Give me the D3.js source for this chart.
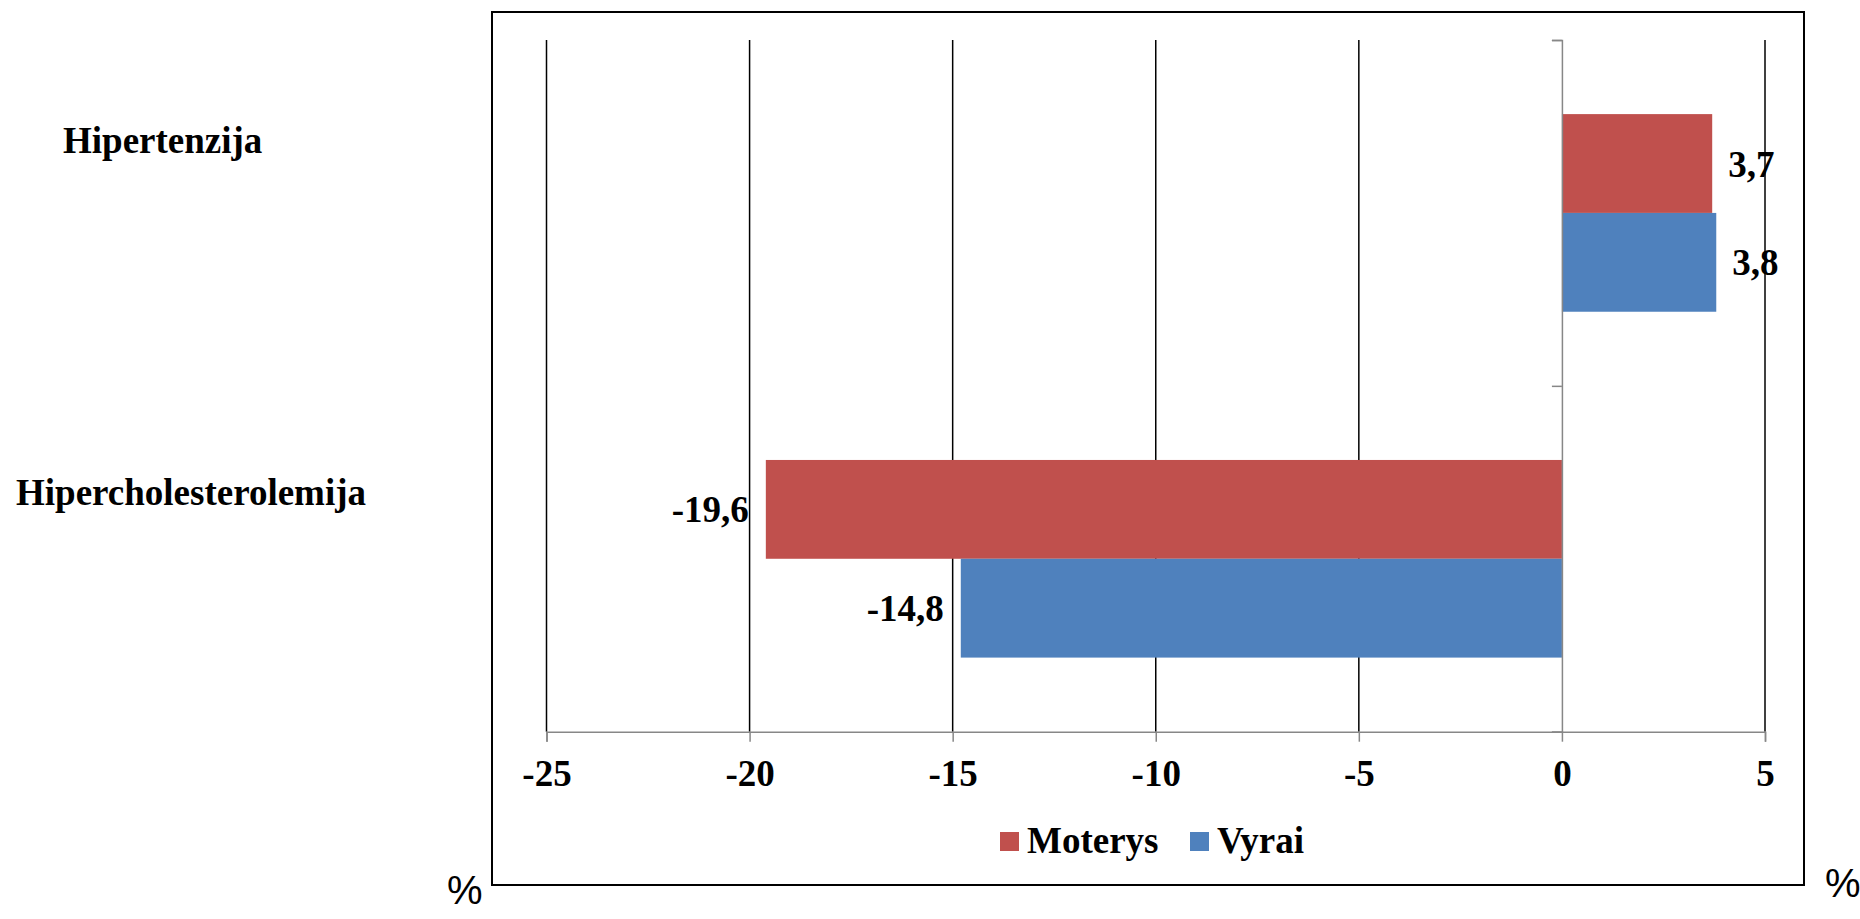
<!DOCTYPE html>
<html>
<head>
<meta charset="utf-8">
<script src="https://cdn.jsdelivr.net/npm/d3@7"></script>
<style>
  html, body { margin: 0; padding: 0; background: #ffffff; }
  svg { display: block; }
  .serif { font-family: "Liberation Serif", "Times New Roman", serif; font-weight: bold; }
</style>
</head>
<body>
<svg id="chart" width="1860" height="919"></svg>
<script>
// Change in prevalence, %
const categories = ["Hipertenzija", "Hipercholesterolemija"];
const seriesNames = ["Moterys", "Vyrai"];
const moterysValues = [3.7, -19.6];
const vyraiValues = [3.8, -14.8];
const xTicks = [-25, -20, -15, -10, -5, 0, 5];
const seriesColors = ["#C0504D", "#4F81BD"];

const values = [moterysValues, vyraiValues];
const rows = categories.map((c, i) => ({
  category: c,
  bars: seriesNames.map((s, j) => ({ series: s, value: values[j][i], color: seriesColors[j] }))
}));

const svg = d3.select("#chart");

// Frame and plot area
const frame = { left: 492, top: 12, right: 1804, bottom: 885 };
const plot = { left: 546.5, right: 1765, top: 40, bottom: 731.7 };

const x = d3.scaleLinear().domain([-25, 5]).range([plot.left, plot.right]);
const y0 = d3.scaleBand().domain(categories).range([plot.top, plot.bottom]).padding(0);
const y1 = d3.scaleBand().domain(seriesNames).range([0, y0.bandwidth()])
  .paddingInner(0).paddingOuter(0.75);

const fmt = v => String(v).replace(".", ",");

// Outer border
svg.append("rect")
  .attr("x", frame.left).attr("y", frame.top)
  .attr("width", frame.right - frame.left).attr("height", frame.bottom - frame.top)
  .attr("fill", "none").attr("stroke", "#000").attr("stroke-width", 2);

// Vertical gridlines
svg.append("g")
  .selectAll("line")
  .data(xTicks.filter(t => t !== 0))
  .join("line")
  .attr("x1", d => x(d)).attr("x2", d => x(d))
  .attr("y1", plot.top).attr("y2", plot.bottom)
  .attr("stroke", "#000").attr("stroke-width", 1.5);

// Bars
const groups = svg.append("g")
  .selectAll("g")
  .data(rows)
  .join("g")
  .attr("transform", d => `translate(0,${y0(d.category)})`);

groups.selectAll("rect")
  .data(d => d.bars)
  .join("rect")
  .attr("x", d => x(Math.min(0, d.value)))
  .attr("width", d => Math.abs(x(d.value) - x(0)))
  .attr("y", d => y1(d.series))
  .attr("height", y1.bandwidth())
  .attr("fill", d => d.color);

// Bottom value axis
const xAxis = svg.append("g")
  .attr("transform", `translate(0,${plot.bottom})`)
  .call(d3.axisBottom(x).tickValues(xTicks).tickSize(10).tickPadding(18).tickFormat(d => d));
xAxis.select(".domain").attr("stroke", "#878787").attr("stroke-width", 1.5);
xAxis.selectAll(".tick line").attr("stroke", "#878787").attr("stroke-width", 1.5);
xAxis.selectAll(".tick text")
  .attr("class", "serif")
  .attr("font-size", 37)
  .attr("fill", "#000");

// Category axis at zero
const yAxisScale = d3.scalePoint().domain([0, 1, 2]).range([plot.top, plot.bottom]);
const yAxis = svg.append("g")
  .attr("transform", `translate(${x(0)},0)`)
  .call(d3.axisLeft(yAxisScale).tickSize(10).tickFormat(""));
yAxis.select(".domain").attr("stroke", "#878787").attr("stroke-width", 1.5);
yAxis.selectAll(".tick line").attr("stroke", "#878787").attr("stroke-width", 1.5);

// Value labels
groups.selectAll("text.val")
  .data(d => d.bars)
  .join("text")
  .attr("class", "val serif")
  .attr("x", d => d.value >= 0 ? x(d.value) + 16 : x(d.value) - 17)
  .attr("y", d => y1(d.series) + y1.bandwidth() / 2 + 13)
  .attr("text-anchor", d => d.value >= 0 ? "start" : "end")
  .attr("font-size", 37)
  .attr("fill", "#000")
  .text(d => fmt(d.value));

// Category labels, placed at the left of the frame
const catLabelLayout = [{ x: 63, dy: -60 }, { x: 16, dy: -54 }];
svg.append("g")
  .selectAll("text")
  .data(categories)
  .join("text")
  .attr("class", "serif")
  .attr("x", (d, i) => catLabelLayout[i].x)
  .attr("y", (d, i) => y0(d) + y0.bandwidth() / 2 + catLabelLayout[i].dy)
  .attr("font-size", 37)
  .attr("fill", "#000")
  .text(d => d);

// Legend
const legendLayout = [{ x: 1000 }, { x: 1190 }];
const legend = svg.append("g")
  .selectAll("g")
  .data(seriesNames)
  .join("g")
  .attr("transform", (d, i) => `translate(${legendLayout[i].x},832)`);
legend.append("rect")
  .attr("width", 19).attr("height", 19)
  .attr("fill", (d, i) => seriesColors[i]);
legend.append("text")
  .attr("class", "serif")
  .attr("x", 27).attr("y", 21)
  .attr("font-size", 37)
  .attr("fill", "#000")
  .text(d => d);

// Unit marks
svg.append("text")
  .attr("x", 447).attr("y", 904)
  .attr("font-family", "Liberation Sans, Arial, sans-serif")
  .attr("font-size", 40)
  .attr("fill", "#000")
  .text("%");
svg.append("text")
  .attr("x", 1825).attr("y", 897)
  .attr("font-family", "Liberation Sans, Arial, sans-serif")
  .attr("font-size", 40)
  .attr("fill", "#000")
  .text("%");
</script>
</body>
</html>
